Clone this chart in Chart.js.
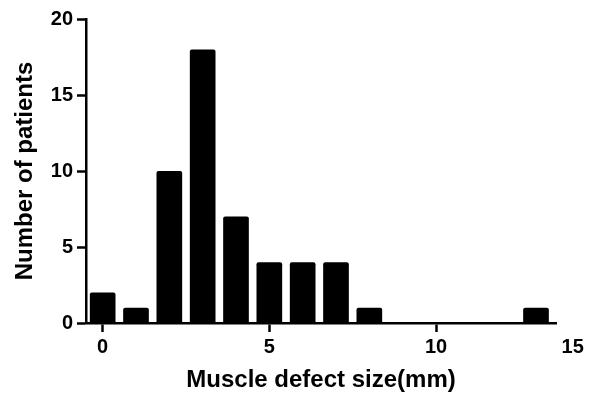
<!DOCTYPE html>
<html>
<head>
<meta charset="utf-8">
<script src="https://cdn.jsdelivr.net/npm/chart.js@4/dist/chart.umd.min.js"></script>
<style>
    html, body { margin: 0; padding: 0; background: #fff; }
    canvas { display: block; }
</style>
</head>
<body>
<canvas id="hist" width="594" height="397"></canvas>
<script>
// defect size bins (mm) and patient counts per bin
const sizes = [0, 1, 2, 3, 4, 5, 6, 7, 8, 13];
const patients = [2, 1, 10, 18, 7, 4, 4, 4, 1, 1];

// x tick values; the last label sits just past the axis end, as in the original
const xTicks = [0, 5, 10, 14.1];
const xTickLabels = ['0', '5', '10', '15'];
const yTicks = [0, 5, 10, 15, 20];

const FONT = 'Arial, "Liberation Sans", sans-serif';
const AXIS_W = 2.5;

new Chart(document.getElementById('hist'), {
    type: 'bar',
    data: {
        datasets: [{
            label: 'Patients',
            data: sizes.map((s, i) => ({ x: s, y: patients[i] })),
            backgroundColor: '#000',
            borderWidth: 0,
            borderRadius: 2,
            borderSkipped: 'bottom',
            categoryPercentage: 1,
            barPercentage: 0.77
        }]
    },
    options: {
        responsive: false,
        animation: false,
        layout: {
            padding: { left: 0, right: 38, top: 19, bottom: 0 }
        },
        plugins: {
            legend: { display: false },
            tooltip: { enabled: false }
        },
        scales: {
            x: {
                type: 'linear',
                min: -0.5,
                max: 13.6,
                offset: false,
                afterBuildTicks: s => { s.ticks = xTicks.map(v => ({ value: v })); },
                afterFit: s => { s.height = 74; s.paddingLeft = 0; s.paddingRight = 0; },
                border: { display: true, color: '#000', width: AXIS_W },
                grid: {
                    offset: false,
                    drawOnChartArea: false,
                    drawTicks: true,
                    tickLength: 9,
                    tickWidth: AXIS_W,
                    tickColor: ctx => (ctx.tick && ctx.tick.value > 13.6) ? 'rgba(0,0,0,0)' : '#000'
                },
                ticks: {
                    color: '#000',
                    padding: 3,
                    maxRotation: 0,
                    autoSkip: false,
                    font: { family: FONT, size: 20, weight: 'bold' },
                    callback: (v, i) => xTickLabels[i]
                },
                title: {
                    display: true,
                    text: 'Muscle defect size(mm)',
                    color: '#000',
                    padding: { top: 0, bottom: 2 },
                    font: { family: FONT, size: 24, weight: 'bold' }
                }
            },
            y: {
                min: 0,
                max: 20,
                afterBuildTicks: s => { s.ticks = yTicks.map(v => ({ value: v })); },
                afterFit: s => { s.width = 86; s.paddingTop = 0; s.paddingBottom = 0; },
                border: { display: true, color: '#000', width: AXIS_W },
                grid: {
                    drawOnChartArea: false,
                    drawTicks: true,
                    tickLength: 9,
                    tickWidth: AXIS_W,
                    tickColor: '#000'
                },
                ticks: {
                    color: '#000',
                    padding: 4,
                    font: { family: FONT, size: 20, weight: 'bold' }
                },
                title: {
                    display: true,
                    text: 'Number of patients',
                    color: '#000',
                    padding: { top: 11, bottom: 0 },
                    font: { family: FONT, size: 24, weight: 'bold' }
                }
            }
        }
    }
});
</script>
</body>
</html>
